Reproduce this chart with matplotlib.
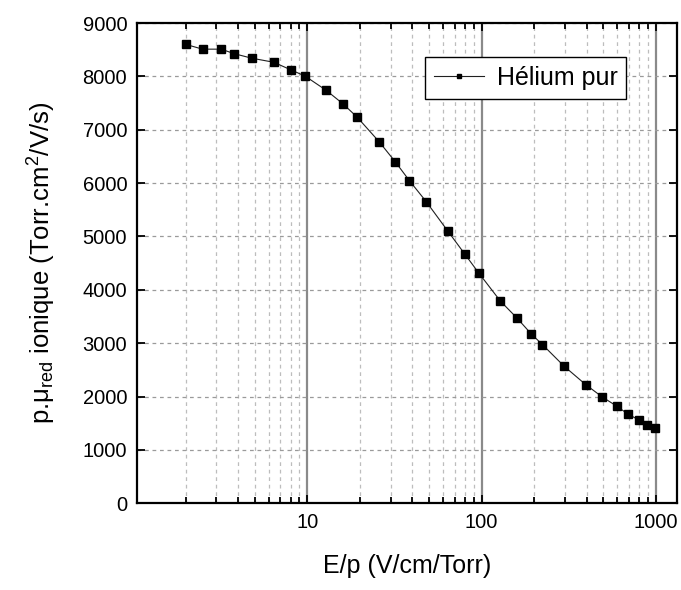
import matplotlib
matplotlib.use("Agg")
import matplotlib.pyplot as plt
from matplotlib.ticker import FixedLocator, FuncFormatter, LogLocator, NullFormatter

plt.rcParams['font.family'] = ['Liberation Sans', 'DejaVu Sans']
plt.rcParams['mathtext.fontset'] = 'custom'
plt.rcParams['mathtext.rm'] = 'Liberation Sans'
plt.rcParams['mathtext.it'] = 'Liberation Sans'

# --- données ---
e_sur_p = [2, 2.5, 3.2, 3.8, 4.8, 6.4, 8, 9.7, 12.8, 16, 19.3, 25.8, 32,
           38.5, 48, 63.8, 80, 96, 128, 159, 193, 223, 297, 395, 493,
           596, 692, 800, 893, 990]
mobilite = [8600, 8510, 8510, 8425, 8340, 8265, 8125, 8005, 7740, 7485,
            7235, 6775, 6395, 6045, 5655, 5105, 4670, 4320, 3790, 3475,
            3170, 2975, 2570, 2225, 1990, 1820, 1670, 1560, 1475, 1405]
label_serie = "Hélium pur"
xticks = [10, 100, 1000]
yticks = list(range(0, 9001, 1000))

fig = plt.figure(figsize=(6.81, 5.90), dpi=100)
ax = fig.add_axes([0.201, 0.147, 0.793, 0.814])

# grilles
ax.set_xscale('log')
ax.set_xlim(1.05, 1320)
ax.set_ylim(0, 9000)
ax.xaxis.set_major_locator(FixedLocator(xticks))
ax.xaxis.set_minor_locator(LogLocator(base=10, subs=range(2, 10)))
ax.xaxis.set_major_formatter(FuncFormatter(lambda v, p: f"{v:g}"))
ax.xaxis.set_minor_formatter(NullFormatter())
ax.yaxis.set_major_locator(FixedLocator(yticks))

ax.grid(True, which='major', axis='x', color='#8a8a8a', lw=1.6, ls='-')
ax.grid(True, which='minor', axis='x', color='#bdbdbd', lw=0.9, ls=(0, (3, 3)))
ax.grid(True, which='major', axis='y', color='#9a9a9a', lw=0.9, ls=(0, (3, 3)))
ax.set_axisbelow(True)

ax.plot(e_sur_p, mobilite, color='#202020', lw=0.8, marker='s', ms=6,
        mfc='black', mec='black', label=label_serie)

for s in ax.spines.values():
    s.set_linewidth(1.6)
ax.tick_params(which='both', direction='in', top=True, right=True,
               labelsize=14.5, width=1.3)
ax.tick_params(which='major', length=6, pad=7)
ax.tick_params(which='minor', length=4)

ax.set_xlabel("E/p (V/cm/Torr)", fontsize=18, labelpad=16)
ax.set_ylabel(r"p.$\mathregular{\mu_{red}}$ ionique (Torr.cm$\mathregular{^2}$/V/s)",
              fontsize=18.5, labelpad=18)

leg = ax.legend(loc='upper right', bbox_to_anchor=(0.906, 0.929),
                borderaxespad=0, fontsize=18, fancybox=False,
                edgecolor='black', framealpha=1, handlelength=2.0,
                handletextpad=0.5, borderpad=0.35, markerscale=0.6)
leg.get_frame().set_linewidth(1.0)

fig.savefig("out.png", dpi=100)
